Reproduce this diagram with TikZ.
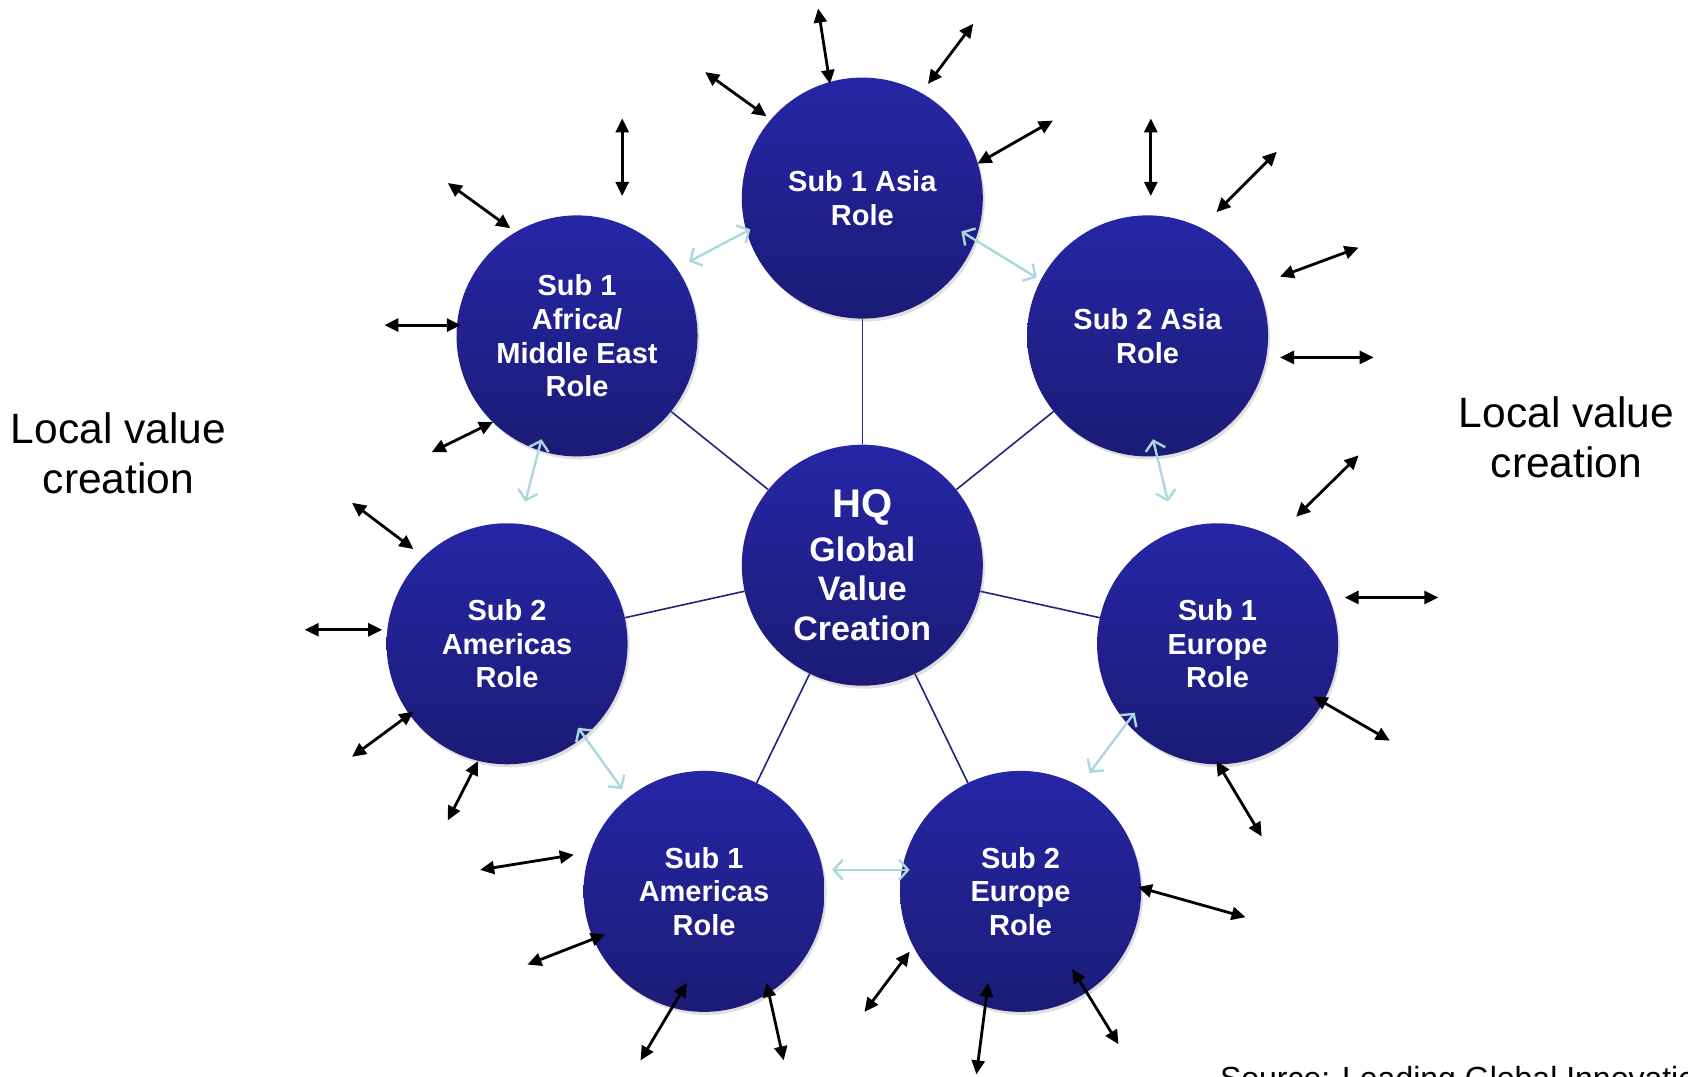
\documentclass[tikz,border=0pt]{standalone}
\usepackage{fontspec}
\setmainfont{Liberation Sans}
\usetikzlibrary{arrows.meta,shadows}
\definecolor{navyA}{RGB}{38,38,166}
\definecolor{navyB}{RGB}{27,27,118}
\definecolor{spokecol}{RGB}{35,35,125}
\definecolor{lblue}{RGB}{170,216,222}
\pgfdeclarelayer{background}
\pgfsetlayers{background,main}
\begin{document}
\begin{tikzpicture}[x=1.0765pt,y=-1.0765pt,
  sub/.style={circle,minimum size=241pt,inner sep=0pt,top color=navyA,bottom color=navyB,
    text=white,font=\bfseries\fontsize{29}{33.5}\selectfont,align=center,
    drop shadow={opacity=0.25,shadow xshift=2pt,shadow yshift=-3pt}},
  hqstyle/.style={sub,font=\bfseries\fontsize{34}{39.5}\selectfont},
  spoke/.style={draw=spokecol,line width=1.6pt},
  ext/.style={{Triangle[length=14pt,width=13pt]}-{Triangle[length=14pt,width=13pt]},line width=2.8pt,black},
  link/.style={{Straight Barb[length=9pt,width=20pt,line width=2.4pt]}-{Straight Barb[length=9pt,width=20pt,line width=2.4pt]},line width=2.4pt,draw=lblue},
  lbl/.style={font=\fontsize{42.5}{50}\selectfont,align=center}]
\useasboundingbox (0,0) rectangle (1568,1000);
\clip (0,0) rectangle (1568,1000);
% nodes
\node[sub] (a1) at (801,184) {Sub 1 Asia\\Role};
\node[sub] (a2) at (1066,312) {Sub 2 Asia\\Role};
\node[sub] (af) at (536,312) {Sub 1\\Africa/\\Middle East\\Role};
\node[sub] (m2) at (471,598) {Sub 2\\Americas\\Role};
\node[sub] (e1) at (1131,598) {Sub 1\\Europe\\Role};
\node[sub] (m1) at (654,828) {Sub 1\\Americas\\Role};
\node[sub] (e2) at (948,828) {Sub 2\\Europe\\Role};
\node[hqstyle] (hq) at (801,525) {\fontsize{40}{44}\selectfont HQ\\[4pt]Global\\Value\\Creation};
% spokes
\begin{pgfonlayer}{background}
\foreach \s in {a1,a2,af,m2,e1,m1,e2} \draw[spoke] (hq) -- (\s);
\end{pgfonlayer}
% links between neighbours
\coordinate (la1) at (640,243); \coordinate (la2) at (697,213);
\coordinate (lb1) at (893,215); \coordinate (lb2) at (963,258);
\coordinate (lc1) at (503,408); \coordinate (lc2) at (488,466);
\coordinate (ld1) at (1071,408); \coordinate (ld2) at (1085,466);
\coordinate (le1) at (1054,662); \coordinate (le2) at (1012,718);
\coordinate (lf1) at (537,676); \coordinate (lf2) at (578,733);
\coordinate (lg1) at (773,808); \coordinate (lg2) at (845,808);
\foreach \p in {la,lb,lc,ld,le,lf,lg} \draw[link] (\p1) -- (\p2);
% external arrows
\foreach \i/\xa/\ya/\xb/\yb in {
 1/760/8/771/78, 2/904/22/862/78, 3/655/67/712/108, 4/978/112/908/152,
 5/1069/110/1069/182, 6/1186/141/1130/197, 7/1262/230/1189/257, 8/1189/332/1276/332,
 9/578/110/578/182, 10/416/170/474/212, 11/357/302/428/302, 12/401/420/458/392,
 13/327/467/384/510, 14/283/585/355/585, 15/327/703/384/661, 16/416/762/444/707,
 17/1262/423/1204/480, 18/1249/555/1336/555, 19/1220/647/1291/688, 20/1130/707/1172/777,
 21/446/808/533/794, 22/490/896/562/868, 23/595/985/638/913, 24/712/913/728/985,
 25/1057/824/1157/852, 26/845/884/803/940, 27/918/913/907/998, 28/996/900/1039/970}
{\coordinate (x\i a) at (\xa,\ya); \coordinate (x\i b) at (\xb,\yb); \draw[ext] (x\i a) -- (x\i b);}
% labels
\node[lbl] (left) at (110,421) {Local value\\creation};
\node[lbl] (right) at (1455,406) {Local value\\creation};
\node[anchor=base west,font=\fontsize{32}{36}\selectfont] (src) at (1130,1011.6) {Source: Leading Global Innovation};
\end{tikzpicture}
\end{document}
